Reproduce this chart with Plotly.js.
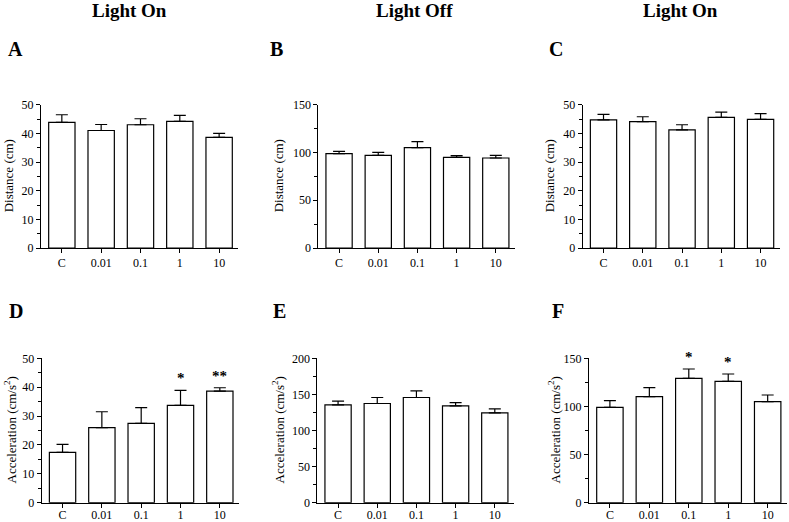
<!DOCTYPE html>
<html>
<head>
<meta charset="utf-8">
<script src="https://cdn.plot.ly/plotly-3.0.1.min.js"></script>
<style>html,body{margin:0;padding:0;background:#fff;}#chart{width:789px;height:522px;}</style>
</head>
<body>
<div id="chart"></div>
<script>
// ---- data ----
const categories = ['C', '0.01', '0.1', '1', '10'];

const distanceA = [43.8, 41.0, 43.0, 44.2, 38.6];
const distanceAErr = [2.7, 2.1, 2.1, 2.1, 1.4];

const distanceB = [98.7, 97.0, 105.0, 94.9, 94.2];
const distanceBErr = [2.5, 3.1, 6.3, 1.7, 2.8];

const distanceC = [44.7, 44.1, 41.2, 45.6, 44.9];
const distanceCErr = [1.9, 1.7, 1.8, 1.8, 2.0];

const accelD = [17.4, 26.0, 27.5, 33.7, 38.6];
const accelDErr = [2.8, 5.5, 5.4, 5.2, 1.2];

const accelE = [135.5, 137.4, 145.7, 134.1, 124.4];
const accelEErr = [5.1, 8.3, 9.3, 4.6, 5.5];

const accelF = [99.1, 110.1, 129.2, 126.1, 104.9];
const accelFErr = [6.9, 9.4, 9.7, 7.6, 7.0];

const starsD = ['', '', '', '*', '**'];
const starsF = ['', '', '*', '*', ''];

const columnTitles = ['Light On', 'Light Off', 'Light On'];
const panelLetters = ['A', 'B', 'C', 'D', 'E', 'F'];
const distTitle = 'Distance (cm)';
const accTitle = 'Acceleration (cm/s<sup>2</sup>)';

// ---- layout helpers ----
const W = 789, H = 522;
const px = x => x / W;
const py = y => 1 - y / H;
const FONT = 'Liberation Serif, Times New Roman, serif';

const panels = [
  {vals: distanceA, err: distanceAErr, left: 41, right: 238.4, top: 104.7, bottom: 248, ymax: 50, dtick: 10, minor: 5, title: distTitle, titleX: 8, stars: null, labelShift: 0},
  {vals: distanceB, err: distanceBErr, left: 318.3, right: 515, top: 104.7, bottom: 248, ymax: 150, dtick: 50, minor: 25, title: distTitle, titleX: 278, stars: null, labelShift: 0},
  {vals: distanceC, err: distanceCErr, left: 582.7, right: 779.8, top: 104.7, bottom: 248, ymax: 50, dtick: 10, minor: 5, title: distTitle, titleX: 549, stars: null, labelShift: 0},
  {vals: accelD, err: accelDErr, left: 41.7, right: 239.1, top: 358.3, bottom: 502.7, ymax: 50, dtick: 10, minor: 5, title: accTitle, titleX: 10, stars: starsD, labelShift: -3},
  {vals: accelE, err: accelEErr, left: 317.3, right: 514, top: 358.3, bottom: 502.7, ymax: 200, dtick: 50, minor: 25, title: accTitle, titleX: 278, stars: null, labelShift: -3},
  {vals: accelF, err: accelFErr, left: 589, right: 787, top: 358.3, bottom: 502.7, ymax: 150, dtick: 50, minor: 25, title: accTitle, titleX: 554, stars: starsF, labelShift: -3}
];

const letterPos = [[16, 49], [276, 49], [556, 49], [16, 311], [279, 311], [558, 311]];
const columnTitlePos = [[129, 10], [414, 10], [680, 10]];

const data = [];
const layout = {
  width: W, height: H,
  margin: {l: 0, r: 0, t: 0, b: 0},
  paper_bgcolor: '#fff', plot_bgcolor: '#fff',
  showlegend: false,
  font: {family: FONT, size: 12, color: '#000'},
  annotations: []
};

panels.forEach((p, i) => {
  const n = i + 1;
  const xa = n === 1 ? 'x' : 'x' + n;
  const ya = n === 1 ? 'y' : 'y' + n;
  const xKey = n === 1 ? 'xaxis' : 'xaxis' + n;
  const yKey = n === 1 ? 'yaxis' : 'yaxis' + n;

  data.push({
    type: 'bar', x: categories, y: p.vals, xaxis: xa, yaxis: ya,
    width: 0.67,
    marker: {color: '#fff', line: {color: '#000', width: 1.2}},
    error_y: {type: 'data', symmetric: false, array: p.err, arrayminus: p.err.map(() => 0),
              color: '#000', thickness: 1.2, width: 6},
    hoverinfo: 'skip'
  });

  layout[xKey] = {
    domain: [px(p.left), px(p.right)], anchor: ya,
    type: 'category', range: [-0.53, 4.49],
    showline: true, linecolor: '#000', linewidth: 1,
    ticks: 'outside', ticklen: 4, tickwidth: 1, tickcolor: '#000',
    ticklabelstandoff: p.labelShift,
    showgrid: false, zeroline: false,
    tickfont: {family: FONT, size: 12, color: '#000'}
  };
  layout[yKey] = {
    domain: [py(p.bottom), py(p.top)], anchor: xa,
    range: [0, p.ymax], dtick: p.dtick, tick0: 0,
    showline: true, linecolor: '#000', linewidth: 1,
    ticks: 'outside', ticklen: 4, tickwidth: 1, tickcolor: '#000',
    minor: {dtick: p.minor, ticks: 'outside', ticklen: 3, tickcolor: '#000', showgrid: false},
    showgrid: false, zeroline: false,
    tickfont: {family: FONT, size: 12, color: '#000'}
  };

  layout.annotations.push({
    xref: 'paper', yref: 'paper', x: px(p.titleX), y: py((p.top + p.bottom) / 2),
    xanchor: 'center', yanchor: 'middle', textangle: -90, showarrow: false,
    text: p.title, font: {family: FONT, size: 13, color: '#000'}
  });

  if (p.stars) {
    p.stars.forEach((s, k) => {
      if (!s) return;
      layout.annotations.push({
        xref: xa, yref: ya, x: k, y: p.vals[k] + p.err[k],
        xanchor: 'center', yanchor: 'bottom', yshift: 2, showarrow: false,
        text: '<b>' + s + '</b>', font: {family: FONT, size: 15, color: '#000'}
      });
    });
  }
});

panelLetters.forEach((t, i) => {
  layout.annotations.push({
    xref: 'paper', yref: 'paper', x: px(letterPos[i][0]), y: py(letterPos[i][1]),
    xanchor: 'center', yanchor: 'middle', showarrow: false,
    text: '<b>' + t + '</b>', font: {family: FONT, size: 20, color: '#000'}
  });
});

columnTitles.forEach((t, i) => {
  layout.annotations.push({
    xref: 'paper', yref: 'paper', x: px(columnTitlePos[i][0]), y: py(columnTitlePos[i][1]),
    xanchor: 'center', yanchor: 'middle', showarrow: false,
    text: '<b>' + t + '</b>', font: {family: FONT, size: 19, color: '#000'}
  });
});

Plotly.newPlot('chart', data, layout, {staticPlot: true, displayModeBar: false});
</script>
</body>
</html>
